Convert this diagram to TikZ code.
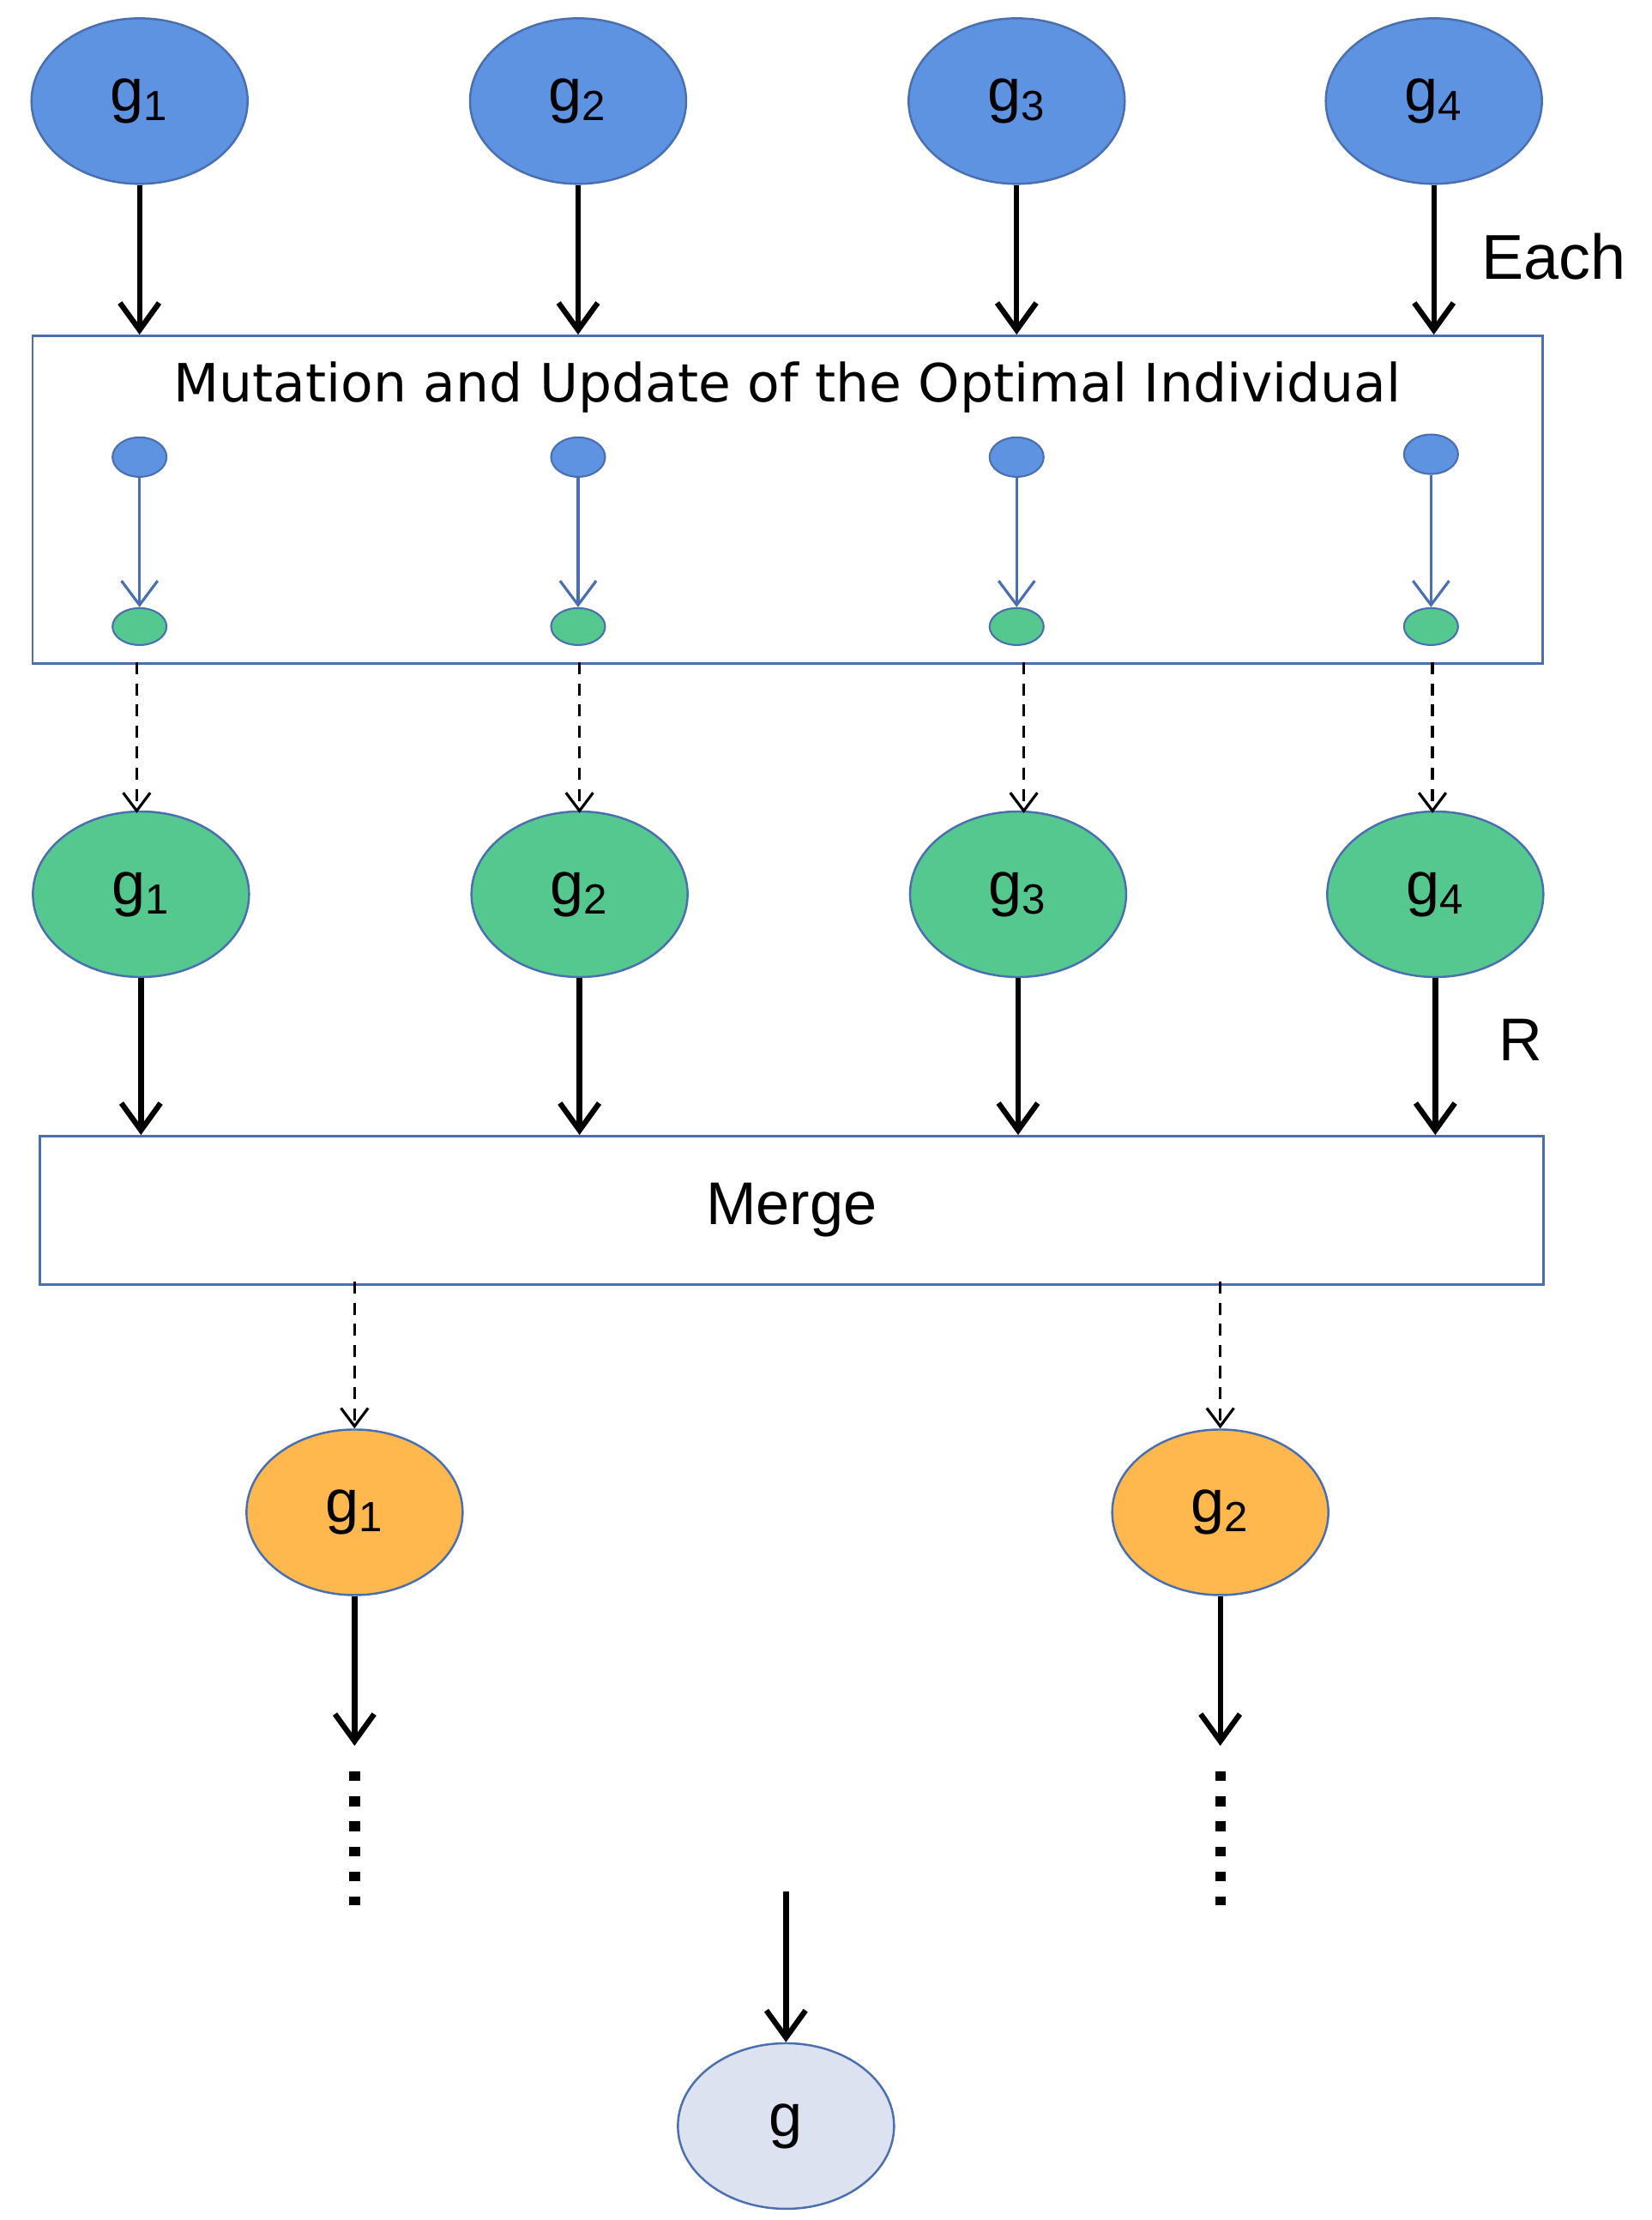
\documentclass[tikz,border=0pt]{standalone}
\usepackage{fontspec}
\setmainfont{Liberation Sans}
\newfontfamily\wide{DejaVu Sans}
\usetikzlibrary{arrows.meta,shapes.geometric}
\definecolor{bfill}{HTML}{5E93E2}
\definecolor{bdraw}{HTML}{4A6FB0}
\definecolor{gfill}{HTML}{55C890}
\definecolor{ofill}{HTML}{FFB84D}
\definecolor{lfill}{HTML}{DDE2F1}
\begin{document}
\begin{tikzpicture}[x=0.0166cm,y=-0.0166cm,
  big/.style={ellipse,draw=bdraw,line width=0.7pt,minimum width=2.52cm,minimum height=1.93cm,inner sep=0pt,font=\fontsize{20}{24}\selectfont},
  blue/.style={big,fill=bfill},
  green/.style={big,fill=gfill},
  orange/.style={big,fill=ofill},
  small/.style={ellipse,draw=bdraw,line width=0.6pt,minimum width=0.63cm,minimum height=0.46cm,inner sep=0pt},
  thick arr/.style={-{Straight Barb[length=9pt,width=13pt]},line width=1.8pt,black},
  thin arr/.style={-{Straight Barb[length=8pt,width=12pt]},line width=0.9pt,bdraw},
  dash arr/.style={-{Straight Barb[length=6pt,width=9pt]},line width=0.9pt,black,dash pattern=on 4pt off 3pt},
  box/.style={draw=bdraw,line width=0.8pt,fill=white}]
\useasboundingbox (0,0) rectangle (1160,1559);
% boxes
\node[box,minimum width=17.61cm,minimum height=3.82cm,anchor=north west] (B1) at (22,235) {};
\node[font=\wide\fontsize{17.5}{20}\selectfont] (T1) at (553,272) {Mutation and Update of the Optimal Individual};
\node[box,minimum width=17.53cm,minimum height=1.73cm,anchor=north west,font=\fontsize{20}{24}\selectfont] (B2) at (27,797) {Merge};
\foreach \i/\x/\xs/\ys/\xd/\xg in {1/98/98/321/96/99,2/406/406/321/407/407,3/714/714/321/719/715,4/1007/1005/319/1006/1008}{
  \node[blue] (a\i) at (\x,71) {g\textsubscript{\i}};
  \coordinate (a\i t) at (\x,235);
  \draw[thick arr] (a\i) -- (a\i t);
  \node[small,fill=bfill] (s\i) at (\xs,\ys) {};
  \node[small,fill=gfill,minimum height=0.43cm] (t\i) at (\xs,440) {};
  \draw[thin arr] (s\i) -- (t\i);
  \node[green] (c\i) at (\xg,628) {g\textsubscript{\i}};
  \coordinate (d\i s) at (\xd,465);
  \coordinate (d\i e) at (\xd,571);
  \draw[dash arr] (d\i s) -- (d\i e);
  \coordinate (c\i t) at (\xg,797);
  \draw[thick arr] (c\i) -- (c\i t);
}
\node[font=\fontsize{21}{25}\selectfont,anchor=west] (each) at (1033,180) {Each};
\node[font=\fontsize{20}{24}\selectfont] (R) at (1068,730) {R};
% orange
\foreach \i/\x in {1/249,2/857}{
  \node[orange] (o\i) at (\x,1062) {g\textsubscript{\i}};
  \coordinate (m\i) at (\x,900);
  \draw[dash arr] (m\i) -- (o\i);
  \coordinate (e\i) at (\x,1226);
  \draw[thick arr] (o\i) -- (e\i);
  \coordinate (p\i) at (\x,1244);
  \coordinate (q\i) at (\x,1338);
  \draw[line width=3.5pt,dash pattern=on 3.2pt off 5.1pt] (p\i) -- (q\i);
}
\node[big,fill=lfill] (g) at (552,1493) {g};
\coordinate (gs) at (552,1328);
\draw[thick arr] (gs) -- (g);
\end{tikzpicture}
\end{document}
